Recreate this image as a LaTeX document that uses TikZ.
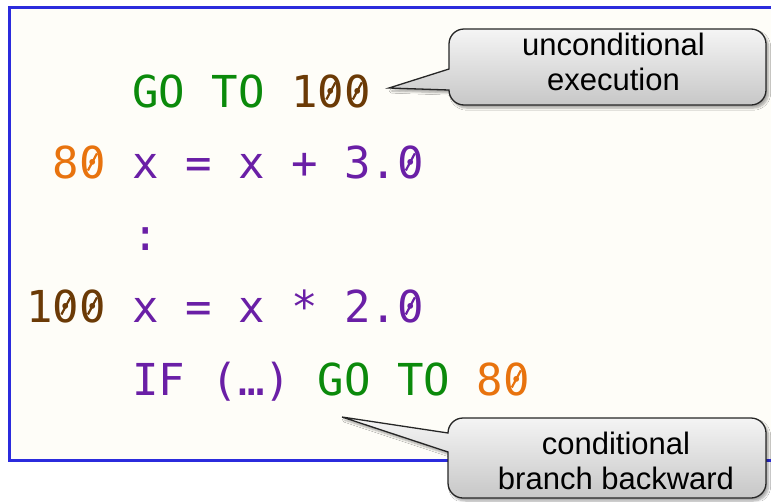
\documentclass[tikz,border=0pt]{standalone}
\usepackage{fontspec}
\usepackage{graphicx}
\setmainfont{Liberation Sans}
\newfontfamily\codefont{DejaVu Sans Mono}
\usetikzlibrary{shadows.blur}

\definecolor{frameblue}{HTML}{2B2BDD}
\definecolor{paper}{HTML}{FEFDF8}
\definecolor{kwgreen}{HTML}{0B8A0B}
\definecolor{lblbrown}{HTML}{6B3A06}
\definecolor{lblorange}{HTML}{E8730E}
\definecolor{stmtpurple}{HTML}{6A1FA6}

% slashed zero for the code font: a thin rotated bar across the digit
\newcommand{\slzero}{\ooalign{0\cr\hidewidth\raisebox{0.34em}{\rotatebox[origin=c]{62}{\rule{0.44em}{0.05em}}}\hidewidth\cr}}

\begin{document}
\begin{tikzpicture}[x=1pt,y=-1pt,
  codeline/.style={anchor=base west, inner sep=0pt,
    font=\codefont\fontsize{44}{44}\selectfont, text=stmtpurple},
  calloutshape/.style={draw=black!85, line width=1.3pt,
    top color=black!4, bottom color=black!22,
    blur shadow={shadow xshift=2.5pt, shadow yshift=-3pt,
      shadow blur steps=6, shadow opacity=35}},
  calltext/.style={align=center, inner sep=0pt,
    font=\fontsize{31}{35}\selectfont}]

  % page and clipping
  \useasboundingbox (0,0) rectangle (771,501);
  \fill[white] (0,0) rectangle (771,501);
  \clip (0,0) rectangle (771,501);

  % code panel
  \draw[frameblue, line width=3pt, fill=paper] (9.5,7) rectangle (800,460);

  % code lines (one column = 26.49)
  \node[codeline] (l1) at (132,107) {\textcolor{kwgreen}{GO TO} \textcolor{lblbrown}{1\slzero\slzero}};
  \node[codeline] (l2) at (52.5,178) {\textcolor{lblorange}{8\slzero} x = x + 3.\slzero};
  \node[codeline] (l3) at (132,250) {:};
  \node[codeline] (l4) at (26,322) {\textcolor{lblbrown}{1\slzero\slzero} x = x * 2.\slzero};
  \node[codeline] (l5) at (132,395) {IF (…) \textcolor{kwgreen}{GO TO} \textcolor{lblorange}{8\slzero}};

  % callout: unconditional execution
  \coordinate (tip1) at (389,88);
  \path[calloutshape] (449,69) [rounded corners=15] -- (449,29) -- (766,29)
     -- (766,105) -- (449,105) [sharp corners] -- (449,90) -- (tip1) -- cycle;
  \node[calltext] (c1) at (613.5,62.2) {unconditional\\execution};

  % callout: conditional branch backward
  \coordinate (tip2) at (342,417);
  \path[calloutshape] (448,452) [rounded corners=15] -- (448,498) -- (766,498)
     -- (766,418) -- (448,418) [sharp corners] -- (448,433) -- (tip2) -- cycle;
  \node[calltext] (c2) at (616,461.2) {conditional\\branch backward};
\end{tikzpicture}
\end{document}
